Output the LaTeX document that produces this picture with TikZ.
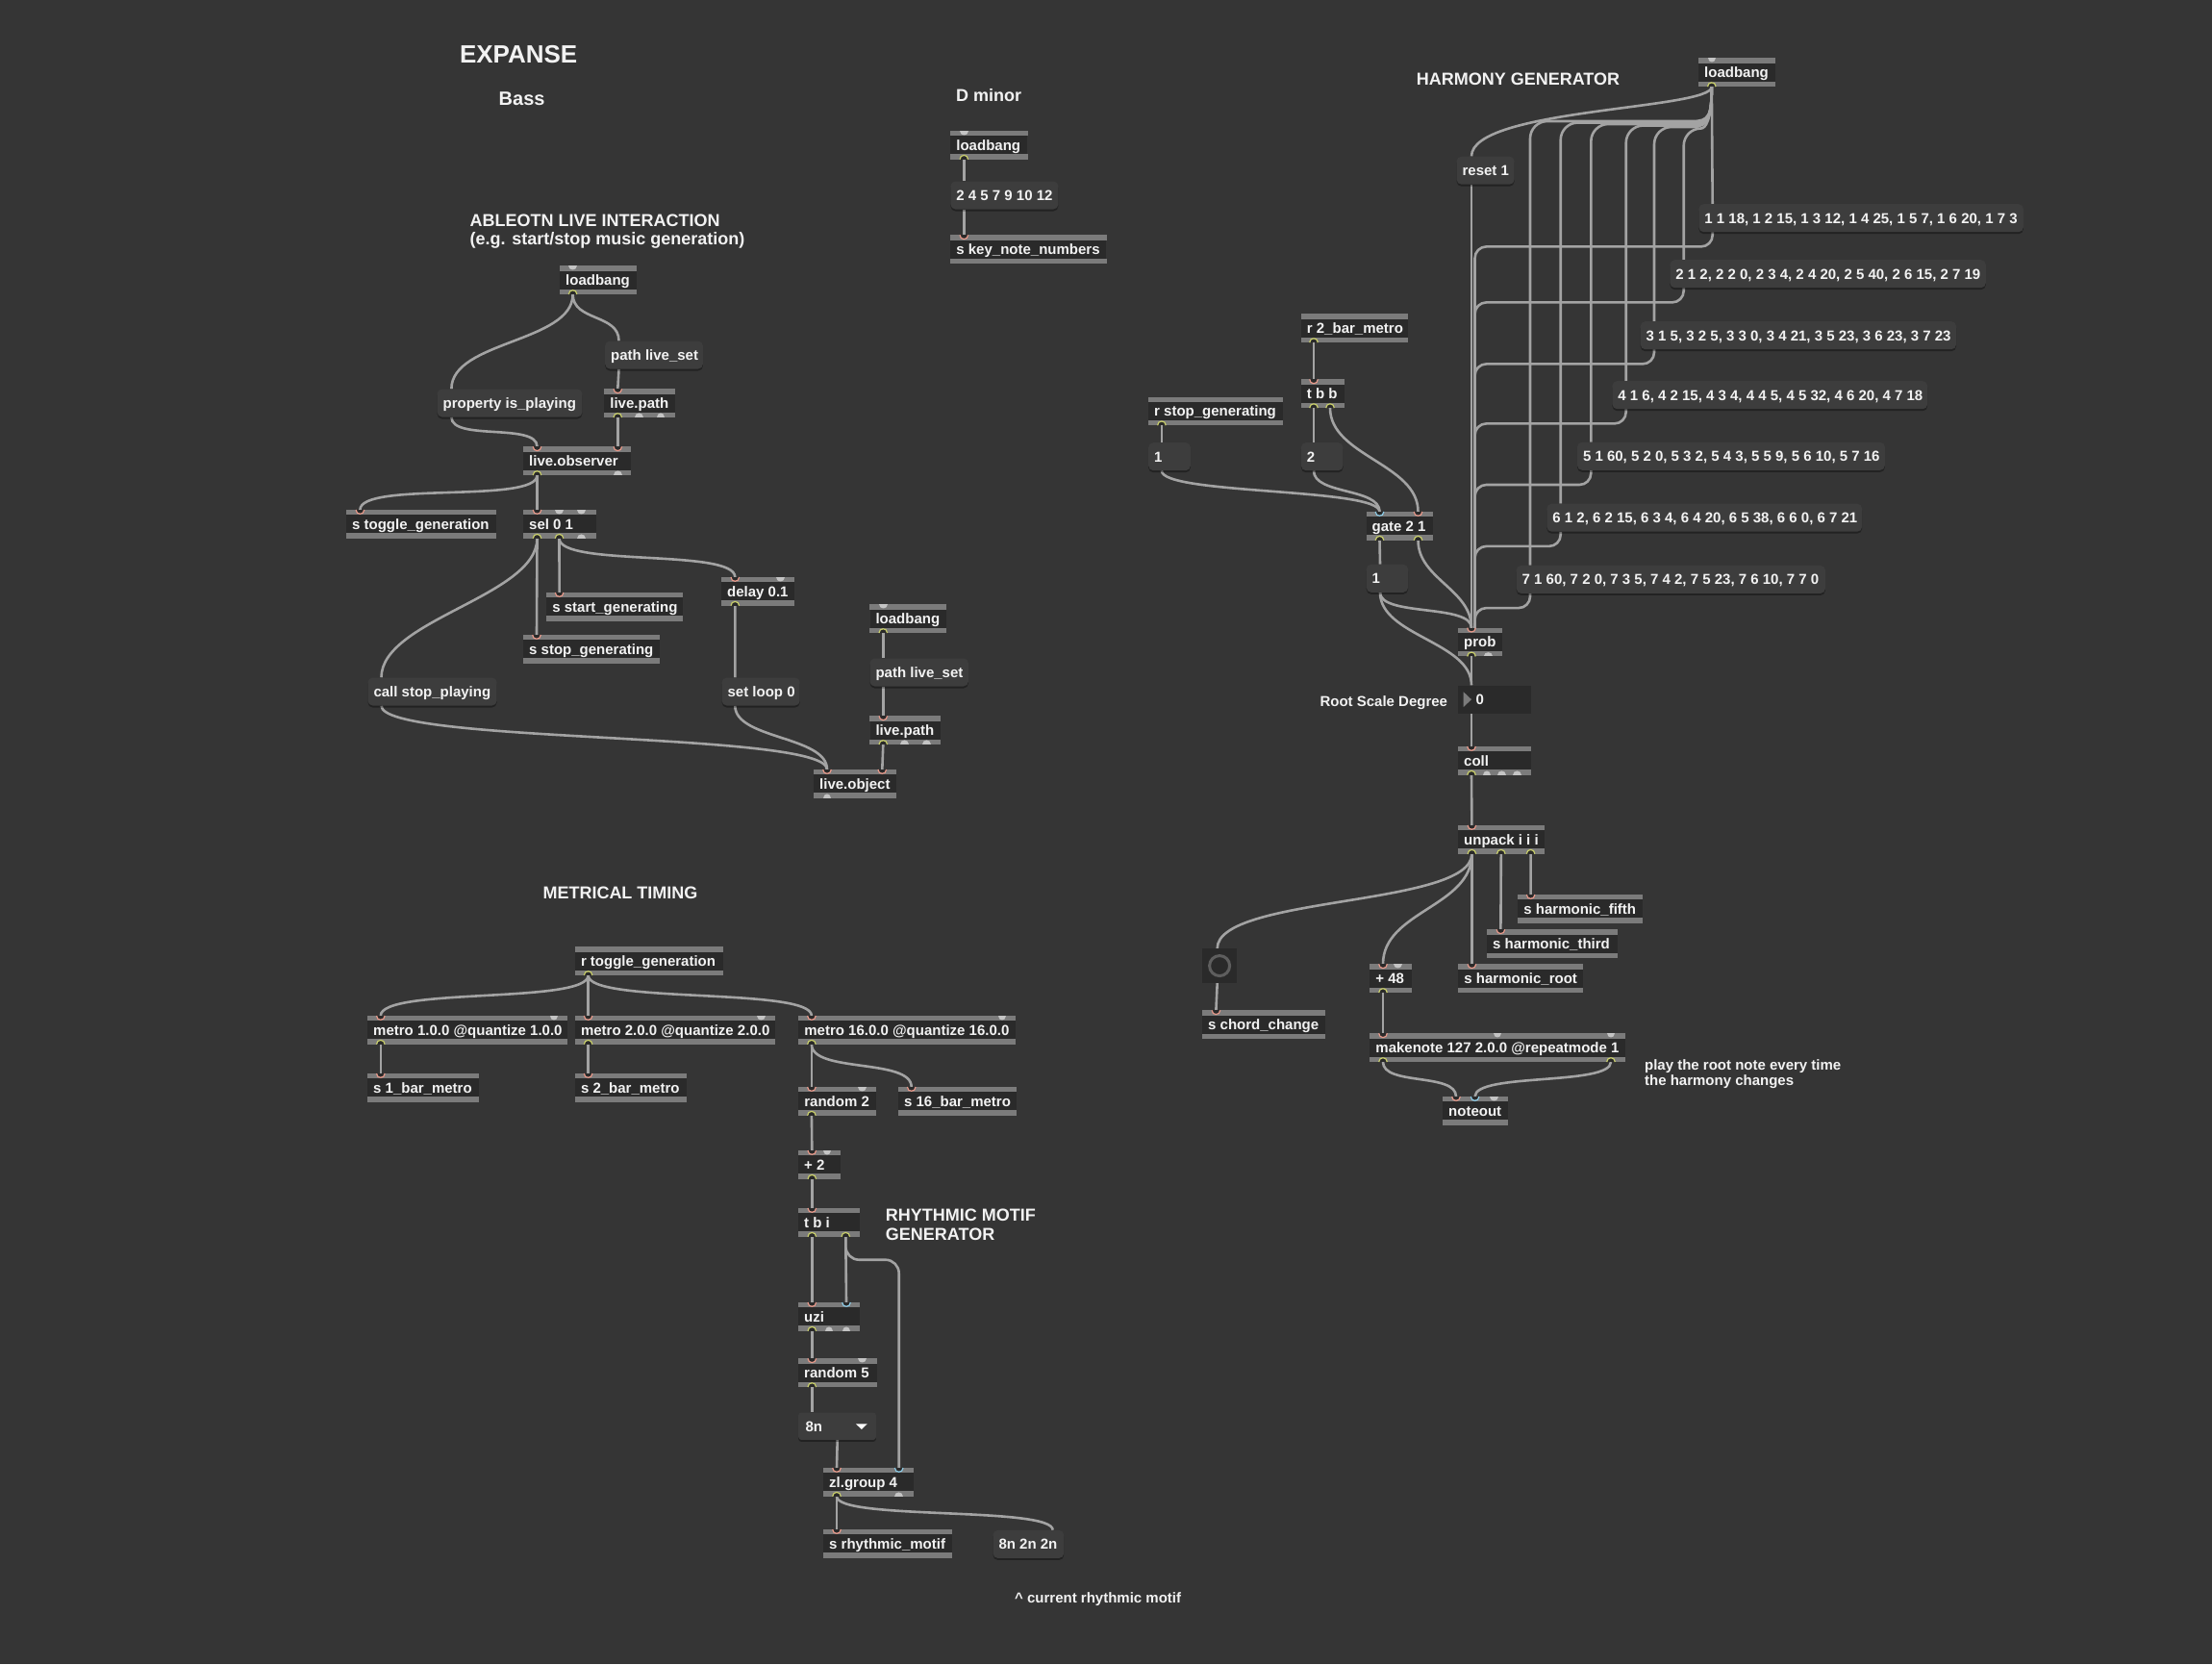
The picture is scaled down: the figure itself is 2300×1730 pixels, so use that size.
\documentclass[tikz,border=0pt]{standalone}
\usepackage{fontspec}
\setmainfont{Liberation Sans}
\usetikzlibrary{calc,shadows}
\definecolor{bgc}{HTML}{353535}
\definecolor{objc}{HTML}{2A2A2A}
\definecolor{barc}{HTML}{7B7B7B}
\definecolor{msgc}{HTML}{3D3D3D}
\definecolor{cablec}{HTML}{A3A3A3}
\definecolor{txtc}{HTML}{F2F2F2}
\definecolor{inc}{HTML}{E8998A}
\definecolor{outc}{HTML}{C9CF6A}
\definecolor{coldc}{HTML}{8CCBE6}
\definecolor{portg}{HTML}{C4C4C4}
\definecolor{ringc}{HTML}{5E5E5E}
\pgfdeclarelayer{bglayer}
\pgfdeclarelayer{cablayer}
\pgfsetlayers{bglayer,cablayer,main}
\newcommand\objfont{\fontsize{15}{18}\selectfont\bfseries}
\tikzset{
 objbox/.style={anchor=north west, fill=objc, minimum height=29.3pt, inner xsep=6pt, inner ysep=0pt, text height=10.7pt, text depth=0pt, font=\objfont, text=txtc},
 msgbox/.style={anchor=north west, fill=msgc, rounded corners=5pt, minimum height=29pt, inner xsep=6pt, inner ysep=0pt, text height=10.7pt, text depth=0pt, font=\objfont, text=txtc, drop shadow={shadow xshift=0pt, shadow yshift=-2pt, opacity=0.35, fill=black}},
 cable/.style={draw=cablec, line width=2.6pt},
 ttl/.style={anchor=base west, text=txtc, inner sep=0pt, font=\fontsize{18}{21}\selectfont\bfseries},
 cmt/.style={anchor=base west, text=txtc, inner sep=0pt, font=\objfont},
 nbox/.style={anchor=north west, fill=objc, minimum width=75.7pt, minimum height=29.4pt, inner sep=0pt},
 umbox/.style={anchor=north west, fill=msgc, rounded corners=3pt, minimum height=28.4pt, inner xsep=7.3pt, inner ysep=0pt, text height=10.7pt, text depth=0pt, font=\objfont, text=txtc, drop shadow={shadow xshift=0pt, shadow yshift=-2pt, opacity=0.35, fill=black}},
 btnbox/.style={anchor=north west, fill=objc, minimum width=35.8pt, minimum height=35.7pt, inner sep=0pt},
}
\newcommand\pobj[5]{%
 \node[objbox] (#1) at (#2,#3) {\makebox[\dimexpr#4pt-12pt\relax][l]{#5}};
 \fill[barc] (#1.north west) rectangle ([yshift=-5.3pt]#1.north east);
 \fill[barc] ([yshift=5.3pt]#1.south west) rectangle (#1.south east);}
\newcommand\pmsg[5]{%
 \node[msgbox] (#1) at (#2,#3) {\makebox[\dimexpr#4pt-12pt\relax][l]{#5}};}
\newcommand\pIn[3]{\filldraw[draw=#1, fill=objc, line width=1.2pt] ($(#2.north west)+(#3-4.3,0)$) .. controls +(0,5.7) and +(0,5.7) .. ($(#2.north west)+(#3+4.3,0)$);}
\newcommand\pOut[3]{\filldraw[draw=#1, fill=objc, line width=1.2pt] ($(#2.south west)+(#3-4.3,0)$) .. controls +(0,-5.7) and +(0,-5.7) .. ($(#2.south west)+(#3+4.3,0)$);}
\newcommand\gIn[2]{\fill[portg] ($(#1.north west)+(#2-4.3,0)$) .. controls +(0,5.7) and +(0,5.7) .. ($(#1.north west)+(#2+4.3,0)$);}
\newcommand\gOut[2]{\fill[portg] ($(#1.south west)+(#2-4.3,0)$) .. controls +(0,-5.7) and +(0,-5.7) .. ($(#1.south west)+(#2+4.3,0)$);}
\newcommand\cab[5]{\draw[cable] ($(#1.south west)+(#2,0)$) .. controls +(0,#5) and +(0,-#5) .. ($(#3.north west)+(#4,0)$);}
\newcommand\vcab[4]{\draw[cable] ($(#1.south west)+(#2,0)$) -- ($(#3.north west)+(#4,0)$);}
% fan cable from harmony loadbang: #1 target node, #2 x of vertical, #3 y of horizontal run
\newcommand\fancab[3]{\draw[cable] ($(lbH.south west)+(13.8,0)$) .. controls (1779.8,120) and (1777,#3) .. (1760,#3) -- (#2+18,#3) .. controls (#2+8,#3) and (#2,#3+8) .. (#2,#3+18) -- ($(#1.north west)+(14.5,0)$);}
\begin{document}
\begin{tikzpicture}[x=1pt,y=-1pt]
\useasboundingbox (0,0) rectangle (2300,1730);
\begin{pgfonlayer}{bglayer}
\fill[bgc] (0,0) rectangle (2300,1730);
\end{pgfonlayer}

% ---------- titles ----------
\node[ttl, font=\fontsize{26}{30}\selectfont\bfseries] (tExp) at (477.8,65.7) {EXPANSE};
\node[ttl, font=\fontsize{20}{24}\selectfont\bfseries] (tBass) at (518.5,109.3) {Bass};
\node[ttl] (tDm) at (994,105) {D minor};
\node[ttl] (tAbl1) at (488.5,235) {ABLEOTN LIVE INTERACTION};
\node[ttl] (tAbl2) at (488.5,254.5) {(e.g. start/stop music generation)};
\node[ttl] (tHarm) at (1472.6,88.8) {HARMONY GENERATOR};
\node[ttl] (tMet) at (564.3,934.3) {METRICAL TIMING};
\node[ttl] (tRhy1) at (920.7,1269.3) {RHYTHMIC MOTIF};
\node[ttl] (tRhy2) at (920.7,1289) {GENERATOR};

% ---------- Ableton Live interaction ----------
\pobj{lbA}{582}{276.3}{80}{loadbang}
\gIn{lbA}{13.6} \pOut{outc}{lbA}{13.6}
\pmsg{plsA}{629}{354.3}{101.7}{path live\_set}
\pmsg{prop}{454.4}{404.3}{150.8}{property is\_playing}
\pobj{lpA}{628.2}{404.3}{73.4}{live.path}
\pIn{inc}{lpA}{14.1} \pOut{outc}{lpA}{14.1} \gOut{lpA}{36.3} \gOut{lpA}{58.9}
\pobj{lobs}{544}{464.3}{111.7}{live.observer}
\pIn{inc}{lobs}{14.5} \pIn{inc}{lobs}{98.3} \pOut{outc}{lobs}{14.5} \gOut{lobs}{98.3}
\pobj{stog}{359.9}{530}{155.8}{s toggle\_generation}
\pIn{inc}{stog}{14.5}
\pobj{sel}{544}{530}{75.8}{sel 0 1}
\pIn{inc}{sel}{14.5} \gIn{sel}{37.5} \gIn{sel}{60.4}
\pOut{outc}{sel}{14.5} \pOut{outc}{sel}{37.5} \gOut{sel}{60.4}
\pobj{dly}{750}{600}{75.6}{delay 0.1}
\pIn{inc}{dly}{14.3} \gIn{dly}{61.7} \pOut{outc}{dly}{14.3}
\pobj{sstart}{568.2}{616}{141.5}{s start\_generating}
\pIn{inc}{sstart}{13.4}
\pobj{sstop}{544}{660}{142}{s stop\_generating}
\pIn{inc}{sstop}{14}
\pmsg{callsp}{382.3}{704.3}{134.1}{call stop\_playing}
\pmsg{setloop}{750.4}{704.3}{81.1}{set loop 0}
\pobj{lobj}{846}{800}{85.6}{live.object}
\pIn{inc}{lobj}{14} \pIn{inc}{lobj}{71.3} \gOut{lobj}{14}
\pobj{lbB}{904.3}{628.3}{79.4}{loadbang}
\gIn{lbB}{14} \pOut{outc}{lbB}{14}
\pmsg{plsB}{904.3}{684.3}{102.4}{path live\_set}
\pobj{lpB}{904.3}{744.3}{73.4}{live.path}
\pIn{inc}{lpB}{14} \pOut{outc}{lpB}{14} \gOut{lpB}{36.4} \gOut{lpB}{59}

% ---------- D minor ----------
\pobj{lbD}{988.2}{136}{80}{loadbang}
\gIn{lbD}{14.1} \pOut{outc}{lbD}{14.1}
\pmsg{scale}{988.2}{188.3}{112}{2 4 5 7 9 10 12}
\pobj{skey}{988.2}{244.3}{162}{s key\_note\_numbers}
\pIn{inc}{skey}{14.1}

% ---------- Metrical timing ----------
\pobj{rtog}{597.8}{984.3}{153.8}{r toggle\_generation}
\pOut{outc}{rtog}{13.8}
\pobj{mA}{382}{1056}{207.6}{metro 1.0.0 @quantize 1.0.0}
\pIn{inc}{mA}{13.8} \gIn{mA}{193.8} \pOut{outc}{mA}{13.8}
\pobj{mB}{597.8}{1056}{207.6}{metro 2.0.0 @quantize 2.0.0}
\pIn{inc}{mB}{13.8} \gIn{mB}{193.8} \pOut{outc}{mB}{13.8}
\pobj{mC}{830.2}{1056}{225.4}{metro 16.0.0 @quantize 16.0.0}
\pIn{inc}{mC}{13.7} \gIn{mC}{211.6} \pOut{outc}{mC}{13.7}
\pobj{sA}{382}{1116}{115.7}{s 1\_bar\_metro}
\pIn{inc}{sA}{13.8}
\pobj{sB}{597.8}{1116}{115.7}{s 2\_bar\_metro}
\pIn{inc}{sB}{13.8}
\pobj{rnd2}{830.2}{1130}{80.8}{random 2}
\pIn{inc}{rnd2}{13.7} \gIn{rnd2}{66.1} \pOut{outc}{rnd2}{13.7}
\pobj{sC}{933.9}{1130}{123}{s 16\_bar\_metro}
\pIn{inc}{sC}{13.8}
\pobj{pl2}{830}{1196}{43.7}{+ 2}
\pIn{inc}{pl2}{14.3} \gIn{pl2}{30} \pOut{outc}{pl2}{14.3}
\pobj{tbi}{830}{1256}{63.7}{t b i}
\pIn{inc}{tbi}{14.3} \pOut{outc}{tbi}{14.3} \pOut{outc}{tbi}{49.3}
\pobj{uzi}{830}{1354}{63.7}{uzi}
\pIn{inc}{uzi}{14.3} \pIn{coldc}{uzi}{50} \pOut{outc}{uzi}{14.3} \gOut{uzi}{32} \gOut{uzi}{50}
\pobj{rnd5}{830}{1412.3}{81.7}{random 5}
\pIn{inc}{rnd5}{14.3} \gIn{rnd5}{66.7} \pOut{outc}{rnd5}{14.3}
\node[umbox] (um) at (830,1468.3) {\makebox[66.1pt][l]{8n}};
\fill[white] (890,1480.3) -- (901.7,1480.3) -- (895.85,1486) -- cycle;
\pobj{zl}{856}{1526}{93.7}{zl.group 4}
\pIn{inc}{zl}{14} \pIn{coldc}{zl}{78.7} \pOut{outc}{zl}{14} \gOut{zl}{78.7}
\pobj{srhy}{856}{1590}{133.7}{s rhythmic\_motif}
\pIn{inc}{srhy}{14}
\pmsg{cur}{1032.3}{1590.7}{73.7}{8n 2n 2n}
\node[cmt] (tCur) at (1055,1666.7) {\textasciicircum{} current rhythmic motif};

% ---------- Harmony generator ----------
\pobj{lbH}{1766}{60.4}{79.6}{loadbang}
\gIn{lbH}{13.8} \pOut{outc}{lbH}{13.8}
\pmsg{reset}{1514.4}{162.5}{60}{reset 1}
\pmsg{hA}{1766.2}{212}{337.5}{1 1 18, 1 2 15, 1 3 12, 1 4 25, 1 5 7, 1 6 20, 1 7 3}
\pmsg{hB}{1736.2}{270}{328.4}{2 1 2, 2 2 0, 2 3 4, 2 4 20, 2 5 40, 2 6 15, 2 7 19}
\pmsg{hC}{1705.5}{334}{328.3}{3 1 5, 3 2 5, 3 3 0, 3 4 21, 3 5 23, 3 6 23, 3 7 23}
\pmsg{hD}{1676.2}{396}{327.8}{4 1 6, 4 2 15, 4 3 4, 4 4 5, 4 5 32, 4 6 20, 4 7 18}
\pmsg{hE}{1639.8}{459.6}{319.9}{5 1 60, 5 2 0, 5 3 2, 5 4 3, 5 5 9, 5 6 10, 5 7 16}
\pmsg{hF}{1608.2}{523.5}{327.7}{6 1 2, 6 2 15, 6 3 4, 6 4 20, 6 5 38, 6 6 0, 6 7 21}
\pmsg{hG}{1576.5}{587.7}{321.2}{7 1 60, 7 2 0, 7 3 5, 7 4 2, 7 5 23, 7 6 10, 7 7 0}
\pobj{r2b}{1352.7}{326.4}{110.8}{r 2\_bar\_metro}
\pOut{outc}{r2b}{13.3}
\pobj{tbb}{1352.7}{394.4}{44.8}{t b b}
\pIn{inc}{tbb}{13.3} \pOut{outc}{tbb}{13.3} \pOut{outc}{tbb}{30.3}
\pobj{rstop}{1194}{412.5}{139.3}{r stop\_generating}
\pOut{outc}{rstop}{13.9}
\pmsg{one}{1194}{460}{43.6}{1}
\pmsg{two}{1352.7}{460}{43.6}{2}
\pobj{gate}{1420.5}{532}{69.1}{gate 2 1}
\pIn{coldc}{gate}{14} \pIn{inc}{gate}{54} \pOut{outc}{gate}{14} \pOut{outc}{gate}{54}
\pmsg{oneb}{1420.5}{586.6}{43.4}{1}
\pobj{prob}{1516}{652.7}{45.7}{prob}
\pIn{inc}{prob}{14} \pOut{outc}{prob}{14} \gOut{prob}{31.7}
\node[nbox] (nb) at (1516,712.3) {};
\fill[barc] (1521.7,719.3) -- (1530,727.2) -- (1521.7,735) -- cycle;
\node[cmt] (nbv) at (1534.3,732.3) {0};
\node[cmt] (tRoot) at (1372.3,734) {Root Scale Degree};
\pobj{coll}{1516}{776}{75.7}{coll}
\pIn{inc}{coll}{14} \pOut{outc}{coll}{14} \gOut{coll}{30} \gOut{coll}{45.7} \gOut{coll}{61.3}
\pobj{unp}{1516}{858}{89.5}{unpack i i i}
\pIn{inc}{unp}{14.4} \pOut{outc}{unp}{14.4} \pOut{outc}{unp}{44.8} \pOut{outc}{unp}{75.6}
\pobj{sfif}{1578.2}{930}{129.5}{s harmonic\_fifth}
\pIn{inc}{sfif}{13.4}
\pobj{sthi}{1546}{966.3}{135.3}{s harmonic\_third}
\pIn{inc}{sthi}{14.4}
\pobj{sroot}{1516.2}{1002.3}{129.4}{s harmonic\_root}
\pIn{inc}{sroot}{14.2}
\pobj{p48}{1424.2}{1002.3}{43.3}{+ 48}
\pIn{inc}{p48}{13.8} \gIn{p48}{29.5} \pOut{outc}{p48}{13.8}
\node[btnbox] (btn) at (1250,986) {};
\draw[draw=ringc, line width=3pt] (btn.center) circle[radius=10.5pt];
\pobj{schd}{1250}{1050.3}{127.8}{s chord\_change}
\pIn{inc}{schd}{14.4}
\pobj{mk}{1424.2}{1074.3}{265.2}{makenote 127 2.0.0 @repeatmode 1}
\pIn{inc}{mk}{13.8} \gIn{mk}{132.6} \gIn{mk}{250.8} \pOut{outc}{mk}{13.8} \pOut{outc}{mk}{250.8}
\pobj{nout}{1500}{1140}{67.5}{noteout}
\pIn{inc}{nout}{14} \pIn{coldc}{nout}{33.6} \gIn{nout}{53.2}
\node[cmt] (tPlay1) at (1709.9,1112.3) {play the root note every time};
\node[cmt] (tPlay2) at (1709.9,1128.8) {the harmony changes};

% ---------- cables ----------
\begin{pgfonlayer}{cablayer}
% Ableton
\cab{lbA}{13.6}{prop}{15}{50}
\cab{lbA}{13.6}{plsA}{14.5}{28}
\vcab{plsA}{14.5}{lpA}{14.1}
\cab{prop}{15}{lobs}{14.5}{25}
\vcab{lpA}{14.1}{lobs}{98.3}
\cab{lobs}{14.5}{stog}{14.5}{30}
\vcab{lobs}{14.5}{sel}{14.5}
\vcab{sel}{14.5}{sstop}{14}
\vcab{sel}{37.5}{sstart}{13.4}
\cab{sel}{37.5}{dly}{14.3}{30}
\cab{sel}{14.5}{callsp}{14.2}{60}
\vcab{dly}{14.3}{setloop}{13.9}
\cab{callsp}{14.2}{lobj}{14}{40}
\cab{setloop}{13.9}{lobj}{14}{35}
\vcab{lbB}{14}{plsB}{14}
\vcab{plsB}{14}{lpB}{14}
\vcab{lpB}{14}{lobj}{71.3}
% D minor
\vcab{lbD}{14.1}{scale}{14.1}
\vcab{scale}{14.1}{skey}{14.1}
% Metrical
\cab{rtog}{13.8}{mA}{13.8}{30}
\vcab{rtog}{13.8}{mB}{13.8}
\cab{rtog}{13.8}{mC}{13.7}{30}
\vcab{mA}{13.8}{sA}{13.8}
\vcab{mB}{13.8}{sB}{13.8}
\vcab{mC}{13.7}{rnd2}{13.7}
\cab{mC}{13.7}{sC}{13.8}{30}
\vcab{rnd2}{13.7}{pl2}{14.3}
\vcab{pl2}{14.3}{tbi}{14.3}
\vcab{tbi}{14.3}{uzi}{14.3}
\vcab{tbi}{49.3}{uzi}{50}
\draw[cable, rounded corners=14pt] ($(tbi.south west)+(49.3,0)$) -- ++(0,24) -| ($(zl.north west)+(78.7,0)$);
\vcab{uzi}{14.3}{rnd5}{14.3}
\vcab{rnd5}{14.3}{um}{14.3}
\vcab{um}{40.7}{zl}{14}
\vcab{zl}{14}{srhy}{14}
\cab{zl}{14}{cur}{62.4}{25}
% Harmony: loadbang fan
\draw[cable] ($(lbH.south west)+(13.8,0)$) .. controls +(0,24) and +(0,-50) .. ($(reset.north west)+(15.6,0)$);
\vcab{lbH}{13.8}{hA}{14.5}
\draw[cable] ($(lbH.south west)+(13.8,0)$) .. controls (1779.8,125.5) and (1773.1,133.5) .. (1768.7,133.5) .. controls (1758.7,133.5) and (1750.7,141.5) .. (1750.7,151.5) -- ($(hB.north west)+(14.5,0)$);
\fancab{hC}{1720}{132}
\fancab{hD}{1690.7}{130.5}
\fancab{hE}{1654.3}{129}
\fancab{hF}{1622.7}{127.5}
\fancab{hG}{1591}{126}
% Harmony: returns to prob
\vcab{reset}{15.6}{prob}{14}
\foreach \h in {hA,hB,hC,hD,hE,hF,hG}{
 \draw[cable, rounded corners=12pt] ($(\h.south west)+(14.5,0)$) -- ++(0,15) -| ($(prob.north west)+(17.5,0)$);
}
\vcab{r2b}{13.3}{tbb}{13.3}
\vcab{tbb}{13.3}{two}{13.3}
\cab{tbb}{30.3}{gate}{54}{50}
\vcab{rstop}{13.9}{one}{13.9}
\cab{one}{13.9}{gate}{14}{25}
\cab{two}{13.3}{gate}{14}{25}
\vcab{gate}{14}{oneb}{14.5}
\cab{gate}{54}{prob}{14}{40}
\cab{oneb}{14.5}{prob}{14}{25}
\cab{oneb}{14.5}{nb}{14}{45}
\vcab{prob}{14}{nb}{14}
\vcab{nb}{14}{coll}{14}
\vcab{coll}{14}{unp}{14.4}
\cab{unp}{14.4}{btn}{15.7}{55}
\cab{unp}{14.4}{p48}{13.8}{55}
\vcab{unp}{14.4}{sroot}{14.2}
\vcab{unp}{44.8}{sthi}{14.4}
\vcab{unp}{75.6}{sfif}{13.4}
\vcab{btn}{15.7}{schd}{14.4}
\vcab{p48}{13.8}{mk}{13.8}
\cab{mk}{13.8}{nout}{14}{25}
\cab{mk}{250.8}{nout}{33.6}{25}
\end{pgfonlayer}
\end{tikzpicture}
\end{document}
